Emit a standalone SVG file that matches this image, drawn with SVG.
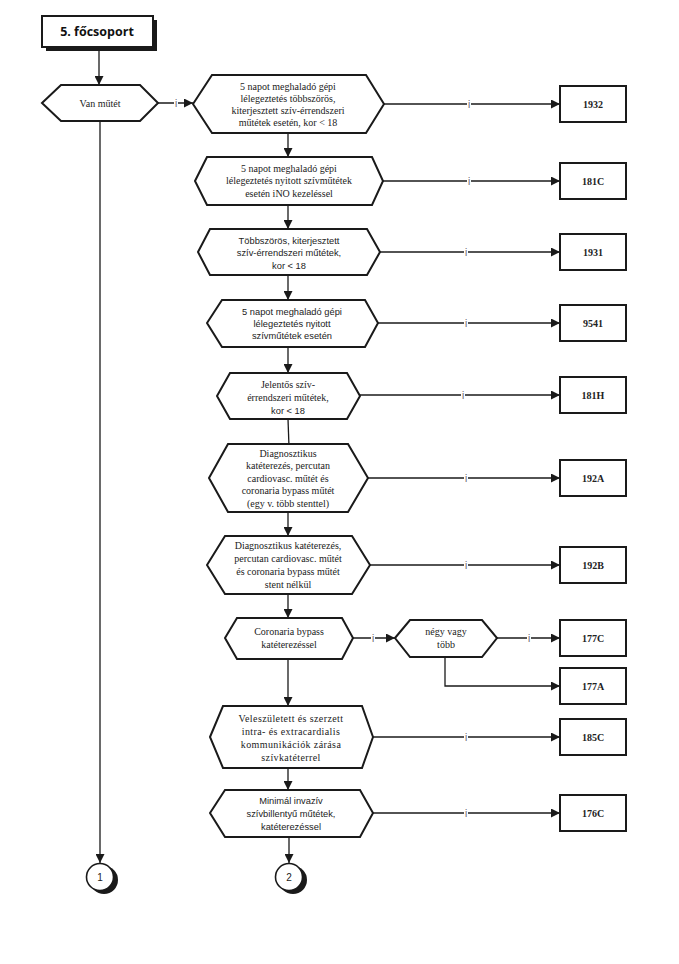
<svg xmlns="http://www.w3.org/2000/svg" width="679" height="964" viewBox="0 0 679 964">
<defs>
<marker id="ah" viewBox="0 0 10 10" refX="10" refY="5" markerWidth="9" markerHeight="9" markerUnits="userSpaceOnUse" orient="auto">
<path d="M0,0 L10,5 L0,10 z" fill="#1a1a1a"/>
</marker>
<style>
.hex{fill:#fff;stroke:#1a1a1a;stroke-width:2;stroke-linejoin:miter}
.box{fill:#fff;stroke:#1a1a1a;stroke-width:2}
.c{fill:none;stroke:#1a1a1a;stroke-width:1.3}
.a{marker-end:url(#ah)}
.s{font-family:"Liberation Serif","Times New Roman",serif;font-size:10px;fill:#222;text-anchor:middle}
.ss{font-family:"Liberation Sans",Arial,sans-serif;font-size:9.3px;fill:#222;text-anchor:middle}
.b{font-family:"Liberation Serif","Times New Roman",serif;font-size:10px;font-weight:bold;fill:#222;text-anchor:middle}
.i{font-family:"Liberation Sans",Arial,sans-serif;font-size:10px;fill:#666;text-anchor:middle}
.ib{fill:#fff}
</style>
</defs>
<rect width="679" height="964" fill="#fff"/>

<g id="connectors">
<line class="c a" x1="99" y1="51" x2="99" y2="85"/>
<line class="c a" x1="100" y1="121" x2="100" y2="863"/>
<line class="c a" x1="158" y1="103" x2="193" y2="103"/>
<line class="c a" x1="384" y1="104" x2="560" y2="104"/>
<line class="c a" x1="383" y1="181" x2="560" y2="181"/>
<line class="c a" x1="380" y1="252" x2="560" y2="252"/>
<line class="c a" x1="378" y1="323" x2="560" y2="323"/>
<line class="c a" x1="360" y1="395" x2="560" y2="395"/>
<line class="c a" x1="368" y1="478" x2="560" y2="478"/>
<line class="c a" x1="370" y1="565" x2="560" y2="565"/>
<line class="c a" x1="353" y1="638" x2="395" y2="638"/>
<line class="c a" x1="497" y1="638" x2="560" y2="638"/>
<polyline class="c a" points="445,657 445,686 560,686"/>
<line class="c a" x1="373" y1="737" x2="560" y2="737"/>
<line class="c a" x1="373" y1="813" x2="560" y2="813"/>
<line class="c a" x1="288" y1="133" x2="288" y2="157"/>
<line class="c a" x1="288" y1="205" x2="288" y2="229"/>
<line class="c a" x1="288" y1="275" x2="288" y2="300"/>
<line class="c a" x1="288" y1="347" x2="288" y2="373"/>
<line class="c" x1="288" y1="419" x2="289" y2="447"/>
<line class="c a" x1="288" y1="512" x2="288" y2="536"/>
<line class="c a" x1="288" y1="594" x2="288" y2="618"/>
<line class="c a" x1="288" y1="659" x2="288" y2="706"/>
<line class="c a" x1="288" y1="768" x2="288" y2="790"/>
<line class="c a" x1="289" y1="837" x2="289" y2="863"/>
<g id="labels">
<rect class="ib" x="174" y="98" width="4" height="10"/><text class="i" x="176" y="106.5">i</text>
<rect class="ib" x="467" y="99" width="4" height="10"/><text class="i" x="469" y="107.5">i</text>
<rect class="ib" x="467" y="176" width="4" height="10"/><text class="i" x="469" y="184.5">i</text>
<rect class="ib" x="464" y="247" width="4" height="10"/><text class="i" x="466" y="255.5">i</text>
<rect class="ib" x="464" y="318" width="4" height="10"/><text class="i" x="466" y="326.5">i</text>
<rect class="ib" x="461" y="390" width="4" height="10"/><text class="i" x="463" y="398.5">i</text>
<rect class="ib" x="464" y="473" width="4" height="10"/><text class="i" x="466" y="481.5">i</text>
<rect class="ib" x="464" y="560" width="4" height="10"/><text class="i" x="466" y="568.5">i</text>
<rect class="ib" x="371" y="633" width="4" height="10"/><text class="i" x="373" y="641.5">i</text>
<rect class="ib" x="527" y="633" width="4" height="10"/><text class="i" x="529" y="641.5">i</text>
<rect class="ib" x="464" y="732" width="4" height="10"/><text class="i" x="466" y="740.5">i</text>
<rect class="ib" x="464" y="808" width="4" height="10"/><text class="i" x="466" y="816.5">i</text>
</g>
</g>

<g id="title">
<rect x="46" y="20" width="111" height="31" fill="#1a1a1a"/>
<rect class="box" x="42" y="16" width="111" height="31"/>
<text x="97" y="36" font-family="'Open Sans','Liberation Sans',Arial,sans-serif" font-size="12.5" font-weight="bold" fill="#111" text-anchor="middle">5. főcsoport</text>
</g>

<g id="van-mutet">
<polygon class="hex" points="42,103 61,85 140,85 158,103 140,121 61,121"/>
<text class="s" x="100" y="106.5">Van műtét</text>
</g>

<g id="n1">
<polygon class="hex" points="193,104 212,75 366,75 384,104 366,133 212,133"/>
<text class="s" x="288" y="89.5">5 napot meghaladó gépi</text>
<text class="s" x="288" y="101.5">lélegeztetés többszörös,</text>
<text class="s" x="288" y="113.5">kiterjesztett szív-érrendszeri</text>
<text class="s" x="288" y="125.5">műtétek esetén, kor &lt; 18</text>
</g>

<g id="n2">
<polygon class="hex" points="195,181 207,157 372,157 383,181 372,205 207,205"/>
<text class="s" x="289" y="171.5">5 napot meghaladó gépi</text>
<text class="s" x="289" y="184">lélegeztetés nyitott szívműtétek</text>
<text class="s" x="289" y="196.5">esetén iNO kezeléssel</text>
</g>

<g id="n3">
<polygon class="hex" points="198,252 210,229 367,229 380,252 367,275 210,275"/>
<text class="ss" x="289" y="243.5">Többszörös, kiterjesztett</text>
<text class="ss" x="289" y="256">szív-érrendszeri műtétek,</text>
<text class="ss" x="289" y="268.5">kor &lt; 18</text>
</g>

<g id="n4">
<polygon class="hex" points="207,323 222,300 365,300 378,323 365,347 222,347"/>
<text class="ss" x="292" y="314.5">5 napot meghaladó gépi</text>
<text class="ss" x="292" y="326.5">lélegeztetés nyitott</text>
<text class="ss" x="292" y="338.5">szívműtétek esetén</text>
</g>

<g id="n5">
<polygon class="hex" points="217,396 230,373 347,373 360,396 347,419 230,419"/>
<text class="s" x="288" y="387.5">Jelentős szív-</text>
<text class="s" x="288" y="400.5">érrendszeri műtétek,</text>
<text class="ss" x="288" y="413.5">kor &lt; 18</text>
</g>

<g id="n6">
<polygon class="hex" points="209,478 228,444 348,444 368,478 348,512 228,512"/>
<text class="s" x="288" y="456.5">Diagnosztikus</text>
<text class="s" x="288" y="469">katéterezés, percutan</text>
<text class="s" x="288" y="481.5">cardiovasc. műtét és</text>
<text class="s" x="288" y="494">coronaria bypass műtét</text>
<text class="s" x="288" y="506.5">(egy v. több stenttel)</text>
</g>

<g id="n7">
<polygon class="hex" points="207,565 225,536 352,536 370,565 352,594 225,594"/>
<text class="s" x="288" y="548.5">Diagnosztikus katéterezés,</text>
<text class="s" x="288" y="561.5">percutan cardiovasc. műtét</text>
<text class="s" x="288" y="574.5">és coronaria bypass műtét</text>
<text class="s" x="288" y="587.5">stent nélkül</text>
</g>

<g id="n8">
<polygon class="hex" points="225,638 237,618 342,618 353,638 342,659 237,659"/>
<text class="s" x="289" y="635">Coronaria bypass</text>
<text class="s" x="289" y="648">katéterezéssel</text>
</g>

<g id="n8b">
<polygon class="hex" points="395,638 410,620 482,620 497,638 482,657 410,657"/>
<text class="s" x="446" y="635">négy vagy</text>
<text class="s" x="446" y="648">több</text>
</g>

<g id="n9">
<polygon class="hex" points="210,737 223,706 362,706 373,737 362,768 223,768"/>
<text class="s" x="291" y="722" letter-spacing="0.4">Veleszületett és szerzett</text>
<text class="s" x="291" y="735" letter-spacing="0.4">intra- és extracardialis</text>
<text class="s" x="291" y="748" letter-spacing="0.4">kommunikációk zárása</text>
<text class="s" x="291" y="761" letter-spacing="0.4">szívkatéterrel</text>
</g>

<g id="n10">
<polygon class="hex" points="210,813 225,790 360,790 373,813 360,837 225,837"/>
<text class="ss" x="291" y="803.5">Minimál invazív</text>
<text class="ss" x="291" y="816.5">szívbillentyű műtétek,</text>
<text class="ss" x="291" y="829.5">katéterezéssel</text>
</g>

<g id="b1932"><rect class="box" x="560" y="86" width="66" height="36"/><text class="b" x="593" y="107.5">1932</text></g>
<g id="b181C"><rect class="box" x="560" y="163" width="66" height="36"/><text class="b" x="593" y="184.5">181C</text></g>
<g id="b1931"><rect class="box" x="560" y="234" width="66" height="36"/><text class="b" x="593" y="255.5">1931</text></g>
<g id="b9541"><rect class="box" x="560" y="305" width="66" height="36"/><text class="b" x="593" y="326.5">9541</text></g>
<g id="b181H"><rect class="box" x="560" y="377" width="66" height="36"/><text class="b" x="593" y="398.5">181H</text></g>
<g id="b192A"><rect class="box" x="560" y="460" width="66" height="36"/><text class="b" x="593" y="481.5">192A</text></g>
<g id="b192B"><rect class="box" x="560" y="547" width="66" height="36"/><text class="b" x="593" y="568.5">192B</text></g>
<g id="b177C"><rect class="box" x="560" y="620" width="66" height="36"/><text class="b" x="593" y="641.5">177C</text></g>
<g id="b177A"><rect class="box" x="560" y="668" width="66" height="36"/><text class="b" x="593" y="689.5">177A</text></g>
<g id="b185C"><rect class="box" x="560" y="719" width="66" height="36"/><text class="b" x="593" y="740.5">185C</text></g>
<g id="b176C"><rect class="box" x="560" y="795" width="66" height="36"/><text class="b" x="593" y="816.5">176C</text></g>

<g id="c1">
<circle cx="104" cy="880" r="14" fill="#1a1a1a"/>
<circle cx="100" cy="877" r="13.5" fill="#fff" stroke="#1a1a1a" stroke-width="1.6"/>
<text x="100" y="881" font-family="'Liberation Sans',Arial,sans-serif" font-size="10" fill="#222" text-anchor="middle">1</text>
</g>
<g id="c2">
<circle cx="293" cy="880" r="14" fill="#1a1a1a"/>
<circle cx="289" cy="877" r="13.5" fill="#fff" stroke="#1a1a1a" stroke-width="1.6"/>
<text x="289" y="881" font-family="'Liberation Sans',Arial,sans-serif" font-size="10" fill="#222" text-anchor="middle">2</text>
</g>
</svg>
